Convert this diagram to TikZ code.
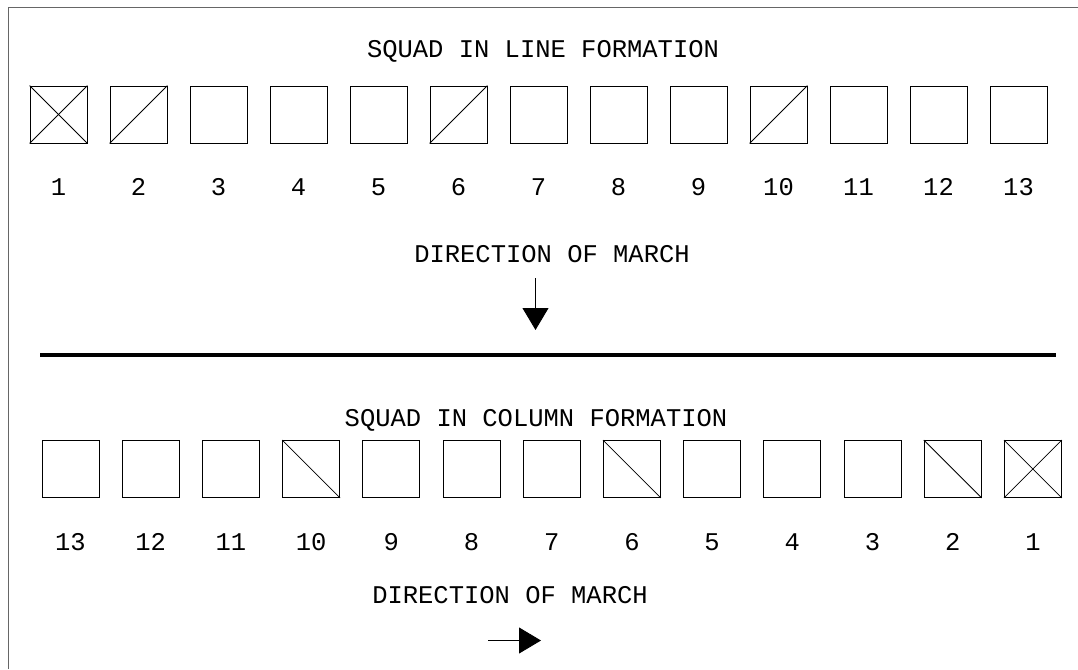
\documentclass[tikz,border=0pt]{standalone}
\usepackage{fontspec}
\setmainfont{Liberation Mono}
\usetikzlibrary{arrows.meta}
\tikzset{
    soldier/.style={rectangle, draw=black, line width=0.9pt, minimum size=57pt, inner sep=0pt},
    numlabel/.style={anchor=base, font=\fontsize{25.5}{30}\selectfont},
    caption/.style={anchor=base, font=\fontsize{25.5}{30}\selectfont},
    marcharrow/.style={-{Triangle[length=22pt, width=26pt]}, line width=0.9pt},
}

\begin{document}
\begin{tikzpicture}[x=1pt, y=-1pt]
        \useasboundingbox (0,0) rectangle (1078,669);
        % frame
        \draw[black!60, line width=1pt] (8,669) -- (8,8) -- (1078,8);
        % line formation
        \node[caption] (linetitle) at (543,58) {SQUAD IN LINE FORMATION};
        \foreach \i in {1,...,13} {
            \node[soldier] (l\i) at ({58.5+80*(\i-1)},114.5) {};
            \node[numlabel] (ln\i) at ({58.5+80*(\i-1)},195) {\i};
        }
        \draw[line width=0.8pt] (l1.south west) -- (l1.north east);
        \draw[line width=0.8pt] (l1.north west) -- (l1.south east);
        \foreach \i in {2,6,10}
            \draw[line width=0.8pt] (l\i.south west) -- (l\i.north east);
        \node[caption] (linemarch) at (552,262) {DIRECTION OF MARCH};
        \coordinate (downfrom) at (535.5,278);
        \coordinate (downto) at (535.5,330);
        \draw[marcharrow] (downfrom) -- (downto);
        % separator
        \coordinate (sepl) at (40,355);
        \coordinate (sepr) at (1056,355);
        \draw[line width=4pt] (sepl) -- (sepr);
        % column formation
        \node[caption] (coltitle) at (536,426.5) {SQUAD IN COLUMN FORMATION};
        \foreach \i in {1,...,13} {
            \node[soldier] (c\i) at ({70.5+80.2*(13-\i)},469) {};
            \node[numlabel] (cn\i) at ({70.5+80.2*(13-\i)},550) {\i};
        }
        \draw[line width=0.8pt] (c1.south west) -- (c1.north east);
        \draw[line width=0.8pt] (c1.north west) -- (c1.south east);
        \foreach \i in {2,6,10}
            \draw[line width=0.8pt] (c\i.north west) -- (c\i.south east);
        \node[caption] (colmarch) at (510,603) {DIRECTION OF MARCH};
        \coordinate (rightfrom) at (488,640.5);
        \coordinate (rightto) at (541,640.5);
        \draw[marcharrow] (rightfrom) -- (rightto);
    \end{tikzpicture}
\end{document}
